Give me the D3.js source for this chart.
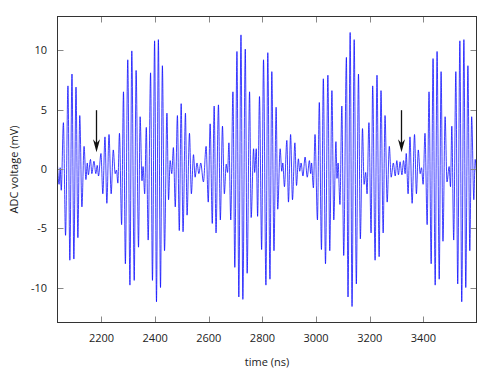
<!DOCTYPE html>
<html>
<head>
<meta charset="utf-8">
<script src="https://cdn.jsdelivr.net/npm/d3@7"></script>
<style>
  body { margin: 0; background: #fff; }
  text { font-family: "Open Sans", "DejaVu Sans", sans-serif; fill: #222; }
</style>
</head>
<body>
<div id="chart"></div>
<script>
// extrema of the ADC trace, [time (ns), voltage (mV)]
const trace = [
  [2036,0.3],[2042,-1.3],[2046,0.1],[2050,-1.8],[2058,3.9],[2066,-5.6],[2075,7.0],[2082,-7.7],
  [2090,8.0],[2097,-7.6],[2105,6.9],[2112,-5.8],[2119,4.5],[2127,-3.2],[2135,1.9],[2142,-0.9],
  [2147,0.5],[2151,-0.5],[2159,0.8],[2164,-0.4],[2172,0.65],[2179,-0.4],[2184,0.3],[2189,-0.6],
  [2198,1.3],[2205,-2.1],[2213,2.7],[2220,-2.9],[2228,2.9],[2236,-2.1],[2244,1.6],[2251,-0.4],
  [2256,-0.1],[2261,-1.2],[2267,3.0],[2275,-4.7],[2282,6.5],[2289,-8.0],[2298,9.2],[2306,-9.8],
  [2313,9.95],[2322,-9.4],[2329,8.3],[2338,-6.6],[2344,4.4],[2351,-1.0],[2355,0.2],[2361,-2.1],
  [2367,3.5],[2374,-6.0],[2383,8.1],[2390,-9.4],[2398,10.8],[2405,-11.2],[2412,10.9],[2420,-10.0],
  [2427,8.7],[2435,-6.9],[2444,4.7],[2450,-2.6],[2456,0.7],[2462,-0.4],[2468,1.8],[2475,-3.2],
  [2483,4.5],[2490,-5.2],[2497,5.5],[2504,-5.3],[2513,4.7],[2519,-3.9],[2528,3.0],[2535,-2.1],
  [2543,1.2],[2549,-0.7],[2556,0.5],[2563,-0.4],[2570,0.5],[2580,-1.1],[2590,1.9],[2598,-2.8],
  [2605,3.8],[2613,-4.6],[2620,5.3],[2627,-5.4],[2636,5.4],[2643,-4.3],[2651,3.6],[2658,-2.1],
  [2665,0.4],[2670,-0.3],[2675,2.2],[2682,-4.3],[2690,6.5],[2697,-8.3],[2705,9.9],[2712,-10.8],
  [2720,11.3],[2727,-11.0],[2736,10.1],[2743,-8.8],[2752,6.5],[2758,-4.1],[2767,1.7],[2771,-0.3],
  [2777,1.7],[2782,-4.0],[2789,6.1],[2797,-6.8],[2804,9.2],[2813,-9.8],[2820,9.8],[2828,-9.3],
  [2835,8.2],[2843,-6.9],[2851,5.2],[2857,-3.4],[2866,1.7],[2872,-0.2],[2876,0.5],[2882,-1.5],
  [2891,2.4],[2897,-2.8],[2905,2.9],[2912,-2.6],[2921,2.2],[2927,-1.4],[2934,0.85],[2939,-0.2],
  [2944,0.5],[2951,-0.6],[2959,1.0],[2967,-0.7],[2975,0.7],[2980,-0.4],[2983,0.5],[2990,-1.6],
  [2996,2.9],[3005,-4.3],[3012,5.6],[3020,-6.8],[3027,7.6],[3035,-8.0],[3044,7.9],[3051,-6.9],
  [3059,6.6],[3066,-4.3],[3074,2.3],[3078,-0.8],[3082,0.5],[3089,-3.0],[3096,5.3],[3103,-7.3],
  [3113,9.4],[3119,-10.8],[3127,11.5],[3134,-11.6],[3142,10.9],[3150,-9.7],[3158,8.0],[3165,-5.9],
  [3173,3.4],[3179,-1.3],[3185,-0.3],[3190,-2.1],[3197,3.9],[3205,-5.4],[3211,7.0],[3220,-7.7],
  [3227,7.9],[3235,-7.4],[3242,6.6],[3250,-5.4],[3257,4.5],[3265,-2.8],[3273,1.9],[3280,-0.7],
  [3288,0.5],[3295,-0.6],[3301,0.7],[3307,-0.5],[3313,0.6],[3320,-0.5],[3326,0.7],[3332,-0.4],
  [3336,1.3],[3343,-2.1],[3350,2.7],[3358,-2.9],[3367,2.9],[3374,-2.1],[3381,1.6],[3388,-0.4],
  [3393,0.1],[3399,-1.3],[3406,3.0],[3414,-4.7],[3421,6.5],[3429,-8.0],[3436,9.3],[3444,-9.8],
  [3451,9.9],[3459,-9.3],[3466,8.2],[3473,-6.1],[3481,4.4],[3488,-1.1],[3496,0.2],[3501,-1.5],
  [3506,3.6],[3513,-6.0],[3521,8.2],[3528,-9.7],[3536,10.8],[3543,-11.2],[3551,10.9],[3558,-10.0],
  [3566,8.7],[3573,-6.9],[3580,4.4],[3588,-2.6],[3593,0.8],[3598,-0.4]
];

const xTicks = [2200, 2400, 2600, 2800, 3000, 3200, 3400];
const yTicks = [-10, -5, 0, 5, 10];
// arrows marking the beat minima: time, start (mV), tip (mV)
const arrowTimes = [2180, 3316];
const arrowFrom = [4.95, 4.95];
const arrowTo = [1.4, 1.4];

const width = 498, height = 374;
const plotLeft = 57.5, plotRight = 476.5, plotTop = 16.5, plotBottom = 322.5;

const svg = d3.select("#chart").append("svg")
    .attr("width", width)
    .attr("height", height);

const x = d3.scaleLinear().domain([2036, 3598]).range([plotLeft, plotRight]);
const y = d3.scaleLinear().domain([-12.95, 12.85]).range([plotBottom, plotTop]);

svg.append("clipPath").attr("id", "plot-clip")
    .append("rect")
    .attr("x", plotLeft).attr("y", plotTop)
    .attr("width", plotRight - plotLeft).attr("height", plotBottom - plotTop);

// signal
let line = d3.line()
    .x(d => x(d[0]))
    .y(d => y(d[1]))
    .curve(d3.curveMonotoneX);

svg.append("path")
    .datum(trace)
    .attr("clip-path", "url(#plot-clip)")
    .attr("fill", "none")
    .attr("stroke", "#0000ff")
    .attr("stroke-width", 0.75)
    .attr("d", line);

// ticks on all four sides, pointing inwards
let tickLen = 6;
let tickG = svg.append("g").attr("stroke", "#888").attr("stroke-width", 1);
xTicks.forEach(t => {
    let px = Math.round(x(t)) + 0.5;
    tickG.append("line").attr("x1", px).attr("x2", px).attr("y1", plotBottom).attr("y2", plotBottom - tickLen);
    tickG.append("line").attr("x1", px).attr("x2", px).attr("y1", plotTop).attr("y2", plotTop + tickLen);
});
yTicks.forEach(t => {
    let py = Math.round(y(t)) + 0.5;
    tickG.append("line").attr("x1", plotLeft).attr("x2", plotLeft + tickLen).attr("y1", py).attr("y2", py);
    tickG.append("line").attr("x1", plotRight).attr("x2", plotRight - tickLen).attr("y1", py).attr("y2", py);
});

// frame
svg.append("rect")
    .attr("x", plotLeft).attr("y", plotTop)
    .attr("width", plotRight - plotLeft).attr("height", plotBottom - plotTop)
    .attr("fill", "none")
    .attr("stroke", "#333")
    .attr("stroke-width", 1);

// tick labels
svg.append("g").selectAll("text")
    .data(xTicks)
    .enter()
    .append("text")
    .attr("x", d => x(d))
    .attr("y", 342)
    .attr("text-anchor", "middle")
    .style("font-size", "11px")
    .text(d => d);

svg.append("g").selectAll("text")
    .data(yTicks)
    .enter()
    .append("text")
    .attr("x", 47)
    .attr("y", d => y(d) + 4)
    .attr("text-anchor", "end")
    .style("font-size", "11px")
    .text(d => d);

// axis titles
svg.append("text")
    .attr("x", (plotLeft + plotRight) / 2)
    .attr("y", 366)
    .attr("text-anchor", "middle")
    .style("font-size", "11px")
    .text("time (ns)");

svg.append("text")
    .attr("transform", "translate(18," + ((plotTop + plotBottom) / 2) + ") rotate(-90)")
    .attr("text-anchor", "middle")
    .style("font-size", "11px")
    .text("ADC voltage (mV)");

// arrows
arrowTimes.forEach((t, i) => {
    let ax = Math.round(x(t)) + 0.5;
    let y0 = y(arrowFrom[i]), y1 = y(arrowTo[i]);
    svg.append("line")
        .attr("x1", ax).attr("x2", ax)
        .attr("y1", y0).attr("y2", y1 - 8)
        .attr("stroke", "#111")
        .attr("stroke-width", 1.3);
    svg.append("path")
        .attr("d", "M" + ax + "," + y1 +
                   "L" + (ax - 3.5) + "," + (y1 - 13) +
                   "L" + ax + "," + (y1 - 9) +
                   "L" + (ax + 3.5) + "," + (y1 - 13) + "Z")
        .attr("fill", "#111");
});
</script>
</body>
</html>
